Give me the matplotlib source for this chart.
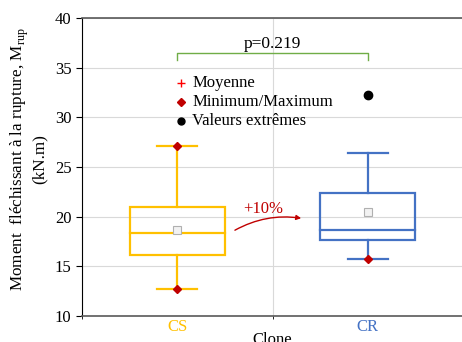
import numpy as np
import matplotlib
matplotlib.use('Agg')
import matplotlib.pyplot as plt
from matplotlib.patches import Rectangle, FancyArrowPatch

plt.rcParams['font.family'] = ['Liberation Serif', 'DejaVu Serif']

groups = ['CS', 'CR']
colors = ['#FFC000', '#4472C4']
whisk_lo = [12.7, 15.7]
q1 = [16.1, 17.7]
median = [18.4, 18.65]
q3 = [21.0, 22.4]
whisk_hi = [27.1, 26.4]
means = [18.65, 20.5]
minmax_pts = [[12.7, 27.1], [15.7]]
outliers = [[], [32.2]]
p_text = 'p=0.219'
pct_text = '+10%'

fig = plt.figure(figsize=(4.62, 3.42), dpi=100)
ax = fig.add_axes([82/462, 26/342, 381/462, 298/342])
ax.set_xlim(0, 4)
ax.set_ylim(10, 40)
pos = [1, 3]

ax.set_yticks(np.arange(10, 41, 5))
ax.set_xticks([0, 1, 2, 3, 4], minor=True)
ax.set_xticks(pos)
ax.set_xticklabels(groups, fontsize=12)
for t, c in zip(ax.get_xticklabels(), colors):
    t.set_color(c)
ax.grid(True, axis='y', color='#d9d9d9', lw=0.8)
ax.grid(True, axis='x', which='minor', color='#d9d9d9', lw=0.8)
ax.set_axisbelow(True)
ax.tick_params(axis='x', length=0, pad=2)
ax.tick_params(axis='y', length=4, direction='out', labelsize=12, color='black')
ax.spines['left'].set_color('black')
ax.spines['top'].set_color('#595959')
ax.spines['bottom'].set_color('#595959')
ax.spines['right'].set_visible(False)
ax.spines['top'].set_linewidth(1.2)
ax.spines['bottom'].set_linewidth(1.2)

bw = 1.0
cw = 0.42
for i, x in enumerate(pos):
    c = colors[i]
    ax.add_patch(Rectangle((x - bw/2, q1[i]), bw, q3[i] - q1[i], fill=False, ec=c, lw=1.6, zorder=3))
    ax.plot([x - bw/2, x + bw/2], [median[i]] * 2, color=c, lw=1.6, zorder=3)
    ax.plot([x, x], [q3[i], whisk_hi[i]], color=c, lw=1.6, zorder=3)
    ax.plot([x, x], [q1[i], whisk_lo[i]], color=c, lw=1.6, zorder=3)
    ax.plot([x - cw/2, x + cw/2], [whisk_hi[i]] * 2, color=c, lw=1.6, zorder=3)
    ax.plot([x - cw/2, x + cw/2], [whisk_lo[i]] * 2, color=c, lw=1.6, zorder=3)
    ax.plot(x, means[i], marker='s', ms=5.5, mfc='#f2f2f2', mec='#b0b0b0', mew=0.8, zorder=4)
    ax.plot([x] * len(minmax_pts[i]), minmax_pts[i], 'D', ms=4.5, color='#C00000', zorder=5)
    if outliers[i]:
        ax.plot([x] * len(outliers[i]), outliers[i], 'o', ms=6, color='black', zorder=5)

# significance bracket
ax.plot([pos[0], pos[0], pos[1], pos[1]], [35.8, 36.5, 36.5, 35.8], color='#70AD47', lw=1, zorder=4)
ax.text(2, 36.6, p_text, ha='center', va='bottom', fontsize=12.5)

# legend drawn by hand
lx = 1.04
ly = [33.5, 31.5, 29.6]
ax.plot(lx, ly[0], '+', color='red', ms=6, mew=1)
ax.plot(lx, ly[1], 'D', color='#C00000', ms=4)
ax.plot(lx, ly[2], 'o', color='black', ms=5)
for y, s in zip(ly, ['Moyenne', 'Minimum/Maximum', 'Valeurs extrêmes']):
    ax.text(lx + 0.12, y, s, va='center', ha='left', fontsize=12)

# +10% arrow
arr = FancyArrowPatch((1.58, 18.5), (2.33, 19.8), connectionstyle='arc3,rad=-0.18',
                      arrowstyle='-|>', mutation_scale=7, color='#C00000', lw=1, zorder=4)
ax.add_patch(arr)
ax.text(1.9, 20.0, pct_text, ha='center', va='bottom', fontsize=12, color='#C00000')

ax.set_xlabel('Clone', fontsize=12, labelpad=-2)
ax.set_ylabel('Moment  fléchissant à la rupture, M$_{\\mathregular{rup}}$\n(kN.m)',
              fontsize=12.3, linespacing=1.05, labelpad=5)
ax.yaxis.label.set_y(0.527)

fig.savefig('out.png', dpi=100)
